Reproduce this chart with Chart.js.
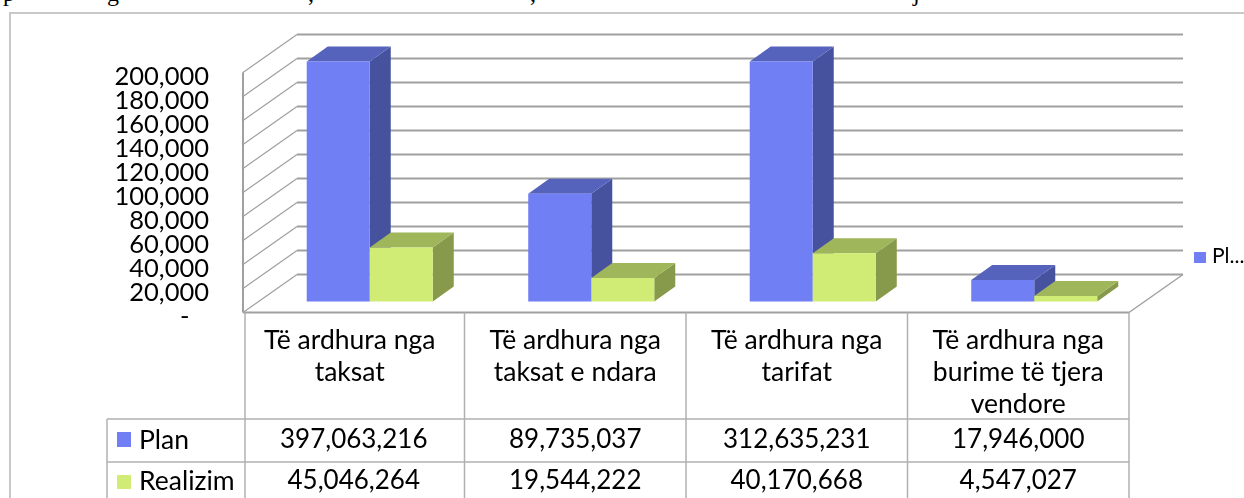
<!DOCTYPE html>
<html>
<head>
<meta charset="utf-8">
<script src="https://cdn.jsdelivr.net/npm/chart.js@4/dist/chart.umd.js"></script>
<style>
  html, body { margin: 0; padding: 0; background: #fff; overflow: hidden; }
  #wrap { position: relative; width: 1244px; height: 498px; overflow: hidden; }
  .cut { position: absolute; top: -19px; font: 24px/24px "Liberation Serif", serif; color: #000; }
  #frame { position: absolute; left: 9px; top: 12px; width: 1300px; height: 600px; border: 2px solid #c8c8c8; }
  canvas { position: absolute; left: 0; top: 0; filter: blur(0.4px); }
</style>
</head>
<body>
<div id="wrap">
  <span class="cut" style="left:3px">p</span>
  <span class="cut" style="left:107px">g</span>
  <span class="cut" style="left:308px">,</span>
  <span class="cut" style="left:530px">,</span>
  <span class="cut" style="left:913px">j</span>
  <div id="frame"></div>
  <canvas id="chart" width="1244" height="498"></canvas>
</div>
<script>
const categories = [
  ["Të ardhura nga", "taksat"],
  ["Të ardhura nga", "taksat e ndara"],
  ["Të ardhura nga", "tarifat"],
  ["Të ardhura nga", "burime të tjera", "vendore"],
]
const planValues = [397063216, 89735037, 312635231, 17946000]
const realizimValues = [45046264, 19544222, 40170668, 4547027]
const axisMax = 200000000
const axisStep = 20000000

const colors = {
  plan: { front: "#717FF5", top: "#5663BC", side: "#47529E" },
  realizim: { front: "#D1EC75", top: "#A0B65B", side: "#87994A" },
}
const gridColor = "#a0a0a0"
const tableColor = "#b0b0b0"
const textColor = "#000"
const tableFont = "26px Lato, sans-serif"

// depth of the fake 3D box
const wallDx = 54
const wallDy = 38
const barShiftX = 16
const barShiftY = 11
const barDepthX = 21
const barDepthY = 15

function face(ctx, points, fill) {
  ctx.fillStyle = fill
  ctx.beginPath()
  points.forEach((p, i) => (i ? ctx.lineTo(p[0], p[1]) : ctx.moveTo(p[0], p[1])))
  ctx.closePath()
  ctx.fill()
}

function line(ctx, x1, y1, x2, y2, color, width) {
  ctx.strokeStyle = color
  ctx.lineWidth = width
  ctx.beginPath()
  ctx.moveTo(x1, y1)
  ctx.lineTo(x2, y2)
  ctx.stroke()
}

// Nudge the axis labels the way the original sits against its gridlines
const labelNudgePlugin = {
  id: "labelNudge",
  beforeDraw(chart) {
    chart.scales.y.getLabelItems().forEach((item) => {
      item.options.translation[1] += 4
    })
    chart.scales.x.getLabelItems()[0].options.translation[0] -= 4
  },
}

// Walls and floor go under the bars
const wallsPlugin = {
  id: "walls",
  beforeDatasetsDraw(chart) {
    const { ctx, chartArea, scales } = chart
    const { left, right, bottom, top } = chartArea
    ctx.save()
    scales.y.ticks.forEach((tick) => {
      const y = scales.y.getPixelForValue(tick.value)
      line(ctx, left, y, left + wallDx, y - wallDy, gridColor, 1.2)
      line(ctx, left + wallDx, y - wallDy, right + wallDx, y - wallDy, gridColor, 2)
    })
    line(ctx, left, top, left, bottom, gridColor, 2)
    line(ctx, right, bottom, right + wallDx, bottom - wallDy, gridColor, 1.5)
    line(ctx, left, bottom, right, bottom, gridColor, 2)
    ctx.restore()
  },
}

// Bars are hidden in the dataset, boxes are drawn from the bar elements
const boxesPlugin = {
  id: "boxes",
  afterDatasetsDraw(chart) {
    const { ctx, scales } = chart
    ctx.save()
    chart.data.datasets.forEach((dataset, di) => {
      const shade = di === 0 ? colors.plan : colors.realizim
      chart.getDatasetMeta(di).data.forEach((bar, i) => {
        const value = Math.min(dataset.data[i], axisMax)
        const x1 = bar.x - bar.width / 2 + barShiftX
        const x2 = bar.x + bar.width / 2 + barShiftX
        const yTop = scales.y.getPixelForValue(value) - barShiftY
        const yBase = scales.y.getPixelForValue(0) - barShiftY
        face(ctx, [[x2, yTop], [x2 + barDepthX, yTop - barDepthY], [x2 + barDepthX, yBase - barDepthY], [x2, yBase]], shade.side)
        face(ctx, [[x1, yTop], [x1 + barDepthX, yTop - barDepthY], [x2 + barDepthX, yTop - barDepthY], [x2, yTop]], shade.top)
        face(ctx, [[x1, yTop], [x2, yTop], [x2, yBase], [x1, yBase]], shade.front)
      })
    })
    ctx.restore()
  },
}

// Data table under the x axis and the cut off legend on the right
const tablePlugin = {
  id: "dataTable",
  afterDraw(chart) {
    const { ctx, chartArea, scales } = chart
    const { left, right, bottom } = chartArea
    const rowTop = 419
    const rowMid = 462
    const tableLeft = 107
    const pageBottom = chart.height
    const step = (right - left) / categories.length
    ctx.save()
    for (let i = 0; i <= categories.length; i++) {
      const x = i === 0 ? left + 2 : left + step * i
      line(ctx, x, bottom, x, pageBottom, tableColor, 1.5)
    }
    line(ctx, tableLeft, rowTop, right, rowTop, tableColor, 1.5)
    line(ctx, tableLeft, rowMid, right, rowMid, tableColor, 1.5)
    line(ctx, tableLeft, rowTop, tableLeft, pageBottom, tableColor, 1.5)

    ctx.font = tableFont
    ctx.fillStyle = textColor
    ctx.textBaseline = "middle"
    ctx.textAlign = "center"
    planValues.forEach((v, i) => {
      const x = scales.x.getPixelForValue(i)
      ctx.fillText(v.toLocaleString("en-US"), x, 440)
      ctx.fillText(realizimValues[i].toLocaleString("en-US"), x, 481)
    })
    ctx.textAlign = "left"
    ctx.font = "26.5px Lato, sans-serif"
    ctx.fillText(chart.data.datasets[0].label, 139, 440)
    ctx.fillText(chart.data.datasets[1].label, 139, 481)
    ctx.fillStyle = colors.plan.front
    ctx.fillRect(117, 432, 14, 15)
    ctx.fillRect(1194, 252, 12, 11)
    ctx.fillStyle = colors.realizim.front
    ctx.fillRect(117, 475, 14, 14)

    ctx.fillStyle = textColor
    ctx.font = "21px Lato, sans-serif"
    ctx.fillText("Pl...", 1212, 256)
    ctx.restore()
  },
}

new Chart(document.getElementById("chart"), {
  type: "bar",
  data: {
    labels: categories,
    datasets: [
      { label: "Plan", data: planValues, backgroundColor: "rgba(0,0,0,0)" },
      { label: "Realizim", data: realizimValues, backgroundColor: "rgba(0,0,0,0)" },
    ],
  },
  options: {
    responsive: false,
    animation: false,
    categoryPercentage: 0.569,
    barPercentage: 1,
    layout: { padding: { top: 72.5, right: 115, left: 0, bottom: 0 } },
    plugins: { legend: { display: false }, tooltip: { enabled: false } },
    scales: {
      x: {
        border: { display: false },
        grid: { display: false },
        afterFit(axis) {
          axis.height = 185.5
        },
        ticks: {
          maxRotation: 0,
          autoSkip: false,
          padding: 4,
          color: textColor,
          font: { family: "Lato, sans-serif", size: 26.5, lineHeight: 1.21 },
        },
      },
      y: {
        min: 0,
        max: axisMax,
        border: { display: false },
        grid: { display: false, drawTicks: false },
        afterFit(axis) {
          axis.width = 243
        },
        ticks: {
          stepSize: axisStep,
          autoSkip: false,
          padding: 34,
          color: textColor,
          font: { family: "Lato, sans-serif", size: 25.5 },
          callback: (v) => (v === 0 ? "-   " : (v / 1000).toLocaleString("en-US")),
        },
      },
    },
  },
  plugins: [labelNudgePlugin, wallsPlugin, boxesPlugin, tablePlugin],
})
</script>
</body>
</html>
